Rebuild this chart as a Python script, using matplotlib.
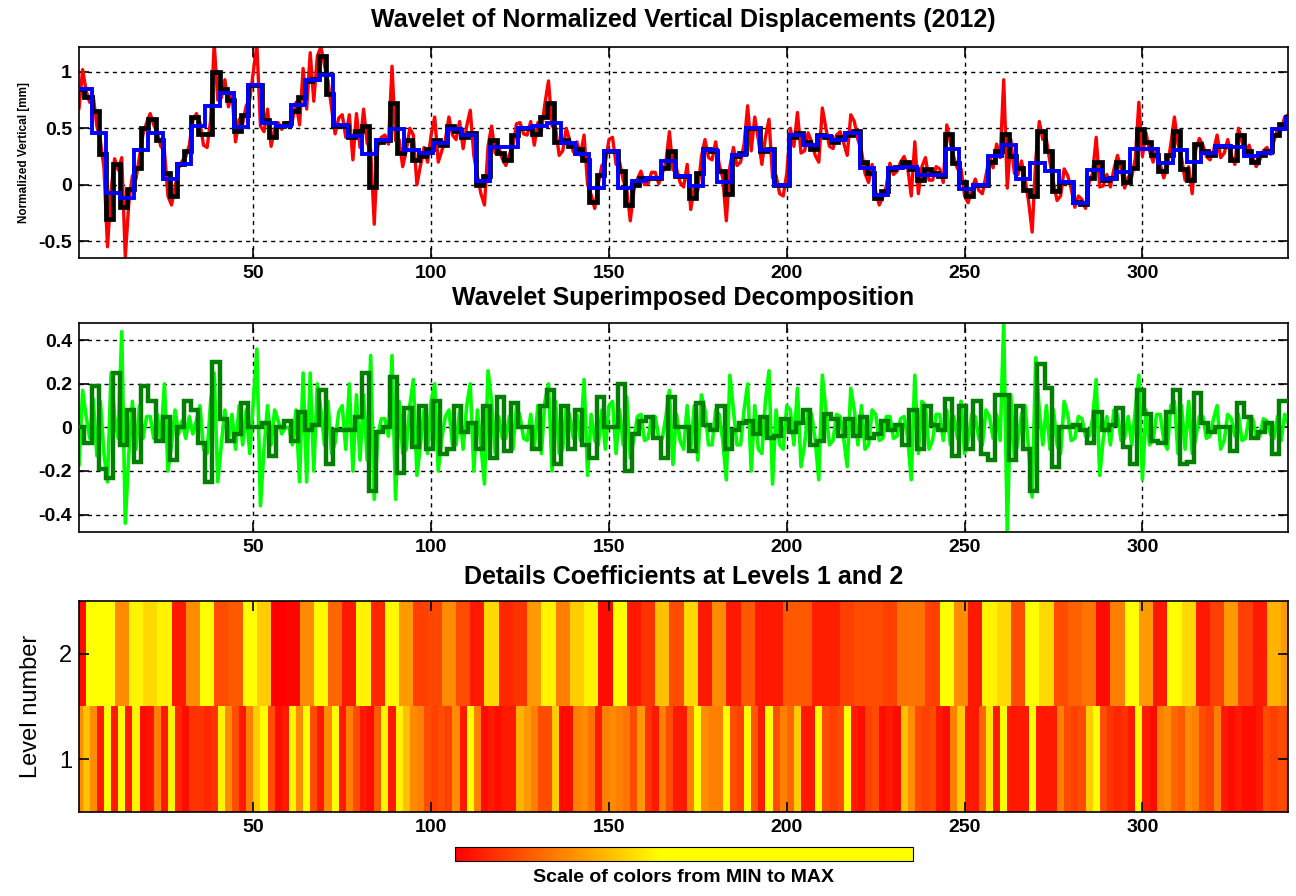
import matplotlib.pyplot as plt
import numpy as np
from matplotlib.colors import LinearSegmentedColormap
from matplotlib.colorbar import ColorbarBase

plt.rcParams['font.family'] = ['Liberation Sans', 'DejaVu Sans']

# original normalized vertical displacement (daily)
signal = [
    0.68, 1.02, 0.83, 0.73, 0.78, 0.52, 0.39, 0.15, -0.55, -0.05, 0.23, 0.13, 0.24, -0.64, -0.16, 0.08, 0.05, 0.25, 0.45, 0.55,
    0.63, 0.53, 0.46, 0.34, 0.30, -0.10, -0.18, -0.02, 0.15, 0.21, 0.25, 0.35, 0.57, 0.63, 0.55, 0.35, 0.33, 0.57, 1.25, 0.75,
    0.77, 0.93, 0.69, 0.81, 0.38, 0.58, 0.54, 0.70, 0.76, 1.00, 1.24, 0.52, 0.47, 0.67, 0.34, 0.50, 0.55, 0.49, 0.55, 0.55,
    0.57, 0.73, 0.53, 1.03, 0.67, 1.17, 0.74, 1.14, 1.22, 1.06, 0.92, 0.68, 0.45, 0.59, 0.62, 0.42, 0.62, 0.22, 0.63, 0.33,
    0.67, 0.37, 0.31, -0.35, 0.34, 0.42, 0.44, 0.36, 1.05, 0.39, 0.40, 0.16, 0.30, 0.50, 0.44, 0.00, 0.17, 0.33, 0.20, 0.44,
    0.60, 0.20, 0.30, 0.40, 0.60, 0.44, 0.40, 0.56, 0.32, 0.52, 0.66, 0.26, 0.08, -0.08, -0.18, 0.34, 0.52, 0.28, 0.33, 0.23,
    0.17, 0.27, 0.34, 0.54, 0.55, 0.45, 0.44, 0.56, 0.35, 0.55, 0.48, 0.72, 0.92, 0.52, 0.50, 0.26, 0.30, 0.50, 0.39, 0.29,
    0.38, 0.26, 0.44, 0.00, -0.09, -0.21, 0.01, 0.17, 0.20, 0.40, 0.42, 0.18, 0.20, 0.04, -0.04, -0.32, -0.05, 0.05, 0.12, 0.00,
    0.01, 0.11, 0.11, 0.01, 0.10, 0.20, 0.47, 0.13, 0.14, 0.02, -0.02, 0.18, -0.22, -0.02, -0.05, 0.25, 0.40, 0.24, 0.22, 0.38,
    0.18, 0.06, -0.32, 0.16, 0.33, 0.17, 0.20, 0.36, 0.70, 0.30, 0.60, 0.40, 0.18, 0.42, 0.58, 0.06, 0.08, -0.08, -0.10, 0.10,
    0.50, 0.34, 0.64, 0.28, 0.30, 0.46, 0.38, 0.26, 0.20, 0.68, 0.50, 0.34, 0.32, 0.44, 0.47, 0.37, 0.26, 0.62, 0.56, 0.40,
    0.30, 0.10, 0.02, 0.18, -0.06, -0.18, -0.11, -0.01, 0.19, 0.09, 0.12, 0.20, 0.25, 0.15, -0.10, 0.38, -0.08, 0.16, 0.24, 0.04,
    0.04, 0.16, 0.14, 0.02, 0.53, 0.37, 0.24, 0.14, 0.14, -0.10, -0.16, -0.04, 0.05, -0.05, -0.08, 0.08, 0.25, 0.15, 0.36, 0.24,
    0.93, -0.03, 0.40, 0.10, 0.09, 0.21, 0.05, -0.15, -0.42, 0.22, 0.56, 0.40, 0.40, 0.20, 0.02, -0.14, -0.10, 0.14, 0.08, -0.04,
    -0.20, -0.10, -0.13, -0.21, 0.02, 0.10, 0.42, -0.02, -0.01, 0.09, -0.02, 0.14, 0.26, 0.14, -0.03, 0.07, 0.07, 0.23, 0.73, 0.25,
    0.46, 0.30, 0.20, 0.32, 0.18, 0.06, 0.16, 0.36, 0.60, 0.36, 0.24, 0.04, 0.16, -0.08, 0.31, 0.41, 0.35, 0.25, 0.22, 0.30,
    0.44, 0.24, 0.28, 0.40, 0.26, 0.18, 0.50, 0.38, 0.25, 0.35, 0.24, 0.16, 0.22, 0.30, 0.33, 0.27, 0.39, 0.49, 0.48, 0.60,
    0.62,
]

# approximation at level 1 (black), one value per 2 days
approx1 = [
    0.85, 0.78, 0.65, 0.27, -0.30, 0.18, -0.20, -0.04, 0.15, 0.50,
    0.58, 0.40, 0.10, -0.10, 0.18, 0.30, 0.60, 0.45, 0.45, 1.00,
    0.85, 0.75, 0.48, 0.62, 0.88, 0.88, 0.57, 0.42, 0.52, 0.55,
    0.65, 0.78, 0.92, 0.94, 1.14, 0.80, 0.52, 0.52, 0.42, 0.48,
    0.52, -0.02, 0.38, 0.40, 0.72, 0.28, 0.40, 0.22, 0.25, 0.32,
    0.40, 0.35, 0.52, 0.48, 0.42, 0.46, 0.00, 0.08, 0.40, 0.28,
    0.22, 0.44, 0.50, 0.50, 0.45, 0.60, 0.72, 0.38, 0.40, 0.34,
    0.32, 0.22, -0.15, 0.09, 0.30, 0.30, 0.12, -0.18, 0.00, 0.06,
    0.06, 0.06, 0.15, 0.30, 0.08, 0.08, -0.12, 0.10, 0.32, 0.30,
    0.12, -0.08, 0.25, 0.28, 0.50, 0.50, 0.30, 0.32, 0.00, 0.00,
    0.42, 0.46, 0.38, 0.32, 0.44, 0.42, 0.38, 0.42, 0.44, 0.48,
    0.20, 0.10, -0.12, -0.06, 0.14, 0.16, 0.20, 0.14, 0.04, 0.14,
    0.10, 0.08, 0.45, 0.19, 0.02, -0.10, 0.00, 0.00, 0.20, 0.30,
    0.45, 0.25, 0.15, -0.05, -0.10, 0.48, 0.30, -0.06, 0.02, 0.02,
    -0.15, -0.17, 0.06, 0.20, 0.04, 0.06, 0.20, 0.02, 0.15, 0.49,
    0.38, 0.26, 0.12, 0.26, 0.48, 0.14, 0.04, 0.36, 0.30, 0.26,
    0.34, 0.34, 0.22, 0.44, 0.30, 0.20, 0.26, 0.30, 0.44, 0.54,
    0.60,
]

# approximation at level 2 (blue), one value per 4 days
approx2 = [
    0.85, 0.46, -0.07, -0.12, 0.31, 0.46, 0.05, 0.18, 0.52, 0.70,
    0.81, 0.51, 0.88, 0.55, 0.52, 0.71, 0.93, 0.97, 0.53, 0.43,
    0.27, 0.40, 0.49, 0.31, 0.28, 0.37, 0.49, 0.44, 0.03, 0.33,
    0.33, 0.50, 0.52, 0.55, 0.37, 0.27, -0.03, 0.30, -0.03, 0.03,
    0.06, 0.21, 0.08, -0.01, 0.31, 0.02, 0.26, 0.50, 0.31, 0.00,
    0.44, 0.35, 0.43, 0.40, 0.46, 0.15, -0.09, 0.15, 0.16, 0.09,
    0.09, 0.32, -0.04, 0.00, 0.25, 0.35, 0.05, 0.19, 0.12, 0.02,
    -0.16, 0.13, 0.05, 0.11, 0.32, 0.32, 0.19, 0.31, 0.20, 0.28,
    0.34, 0.33, 0.25, 0.28, 0.49, 0.59,
]

# detail at level 1 (light green), daily
detail1 = [
    -0.17, 0.17, 0.05, -0.05, 0.13, -0.13, 0.12, -0.12, -0.25, 0.25, 0.05, -0.05, 0.44, -0.44, -0.12, 0.12, -0.10, 0.10, -0.05, 0.05,
    0.05, -0.05, 0.06, -0.06, 0.20, -0.20, -0.08, 0.08, -0.03, 0.03, -0.05, 0.05, -0.03, 0.03, 0.10, -0.10, -0.12, 0.12, 0.25, -0.25,
    -0.08, 0.08, -0.06, 0.06, -0.10, 0.10, -0.08, 0.08, -0.12, 0.12, 0.36, -0.36, -0.10, 0.10, -0.08, 0.08, 0.03, -0.03, 0.00, 0.00,
    -0.08, 0.08, -0.25, 0.25, -0.25, 0.25, -0.20, 0.20, 0.08, -0.08, 0.12, -0.12, -0.07, 0.07, 0.10, -0.10, 0.20, -0.20, 0.15, -0.15,
    0.15, -0.15, 0.33, -0.33, -0.04, 0.04, 0.04, -0.04, 0.33, -0.33, 0.12, -0.12, -0.10, 0.10, 0.22, -0.22, -0.08, 0.08, -0.12, 0.12,
    0.20, -0.20, -0.05, 0.05, 0.08, -0.08, -0.08, 0.08, -0.10, 0.10, 0.20, -0.20, 0.08, -0.08, -0.26, 0.26, 0.12, -0.12, 0.05, -0.05,
    -0.05, 0.05, -0.10, 0.10, 0.05, -0.05, -0.06, 0.06, -0.10, 0.10, -0.12, 0.12, 0.20, -0.20, 0.12, -0.12, -0.10, 0.10, 0.05, -0.05,
    0.06, -0.06, 0.22, -0.22, 0.06, -0.06, -0.08, 0.08, -0.10, 0.10, 0.12, -0.12, 0.08, -0.08, 0.14, -0.14, -0.05, 0.05, 0.06, -0.06,
    -0.05, 0.05, 0.05, -0.05, -0.05, 0.05, 0.17, -0.17, 0.06, -0.06, -0.10, 0.10, -0.10, 0.10, -0.15, 0.15, 0.08, -0.08, -0.08, 0.08,
    0.06, -0.06, -0.24, 0.24, 0.08, -0.08, -0.08, 0.08, 0.20, -0.20, 0.10, -0.10, -0.12, 0.12, 0.26, -0.26, 0.08, -0.08, -0.10, 0.10,
    0.08, -0.08, 0.18, -0.18, -0.08, 0.08, 0.06, -0.06, -0.24, 0.24, 0.08, -0.08, -0.06, 0.06, 0.05, -0.05, -0.18, 0.18, 0.08, -0.08,
    0.10, -0.10, -0.08, 0.08, 0.06, -0.06, -0.05, 0.05, 0.05, -0.05, -0.04, 0.04, 0.05, -0.05, -0.24, 0.24, -0.12, 0.12, 0.10, -0.10,
    -0.06, 0.06, 0.06, -0.06, 0.08, -0.08, 0.05, -0.05, 0.12, -0.12, -0.06, 0.06, 0.05, -0.05, -0.08, 0.08, 0.05, -0.05, 0.06, -0.06,
    0.48, -0.48, 0.15, -0.15, -0.06, 0.06, 0.10, -0.10, -0.32, 0.32, 0.08, -0.08, 0.10, -0.10, 0.08, -0.08, -0.12, 0.12, 0.06, -0.06,
    -0.05, 0.05, 0.04, -0.04, -0.04, 0.04, 0.22, -0.22, -0.05, 0.05, -0.08, 0.08, 0.06, -0.06, -0.05, 0.05, -0.08, 0.08, 0.24, -0.24,
    0.08, -0.08, -0.06, 0.06, 0.06, -0.06, -0.10, 0.10, 0.12, -0.12, 0.10, -0.10, 0.12, -0.12, -0.05, 0.05, 0.05, -0.05, -0.04, 0.04,
    0.10, -0.10, -0.06, 0.06, 0.04, -0.04, 0.06, -0.06, -0.05, 0.05, 0.04, -0.04, -0.04, 0.04, 0.03, -0.03, -0.05, 0.05, -0.06, 0.06,
    0.02,
]

# detail at level 2 (dark green), one value per 2 days
detail2 = [
    0.00, -0.07, 0.19, -0.19, -0.23, 0.25, -0.08, 0.08, -0.16, 0.19,
    0.12, -0.06, 0.05, -0.15, 0.00, 0.12, 0.08, -0.07, -0.25, 0.30,
    0.04, -0.06, -0.03, 0.11, 0.00, 0.00, 0.02, -0.13, 0.00, 0.03,
    -0.06, 0.07, -0.01, 0.01, 0.17, -0.17, -0.01, -0.01, -0.01, 0.05,
    0.25, -0.29, -0.02, 0.00, 0.23, -0.21, 0.09, -0.09, 0.10, -0.10,
    0.12, -0.12, -0.10, 0.10, -0.02, 0.02, -0.10, 0.10, -0.14, 0.14,
    -0.11, 0.11, 0.00, 0.00, -0.10, 0.10, 0.17, -0.17, 0.10, -0.10,
    0.08, -0.08, -0.14, 0.14, 0.00, 0.00, 0.20, -0.20, -0.03, 0.03,
    0.05, -0.05, -0.14, 0.14, 0.00, 0.00, -0.11, 0.11, 0.01, -0.01,
    0.10, -0.10, -0.01, 0.02, 0.03, -0.03, 0.05, -0.05, -0.04, 0.04,
    -0.02, 0.02, 0.08, -0.08, -0.06, 0.06, 0.04, -0.04, 0.04, -0.04,
    0.05, -0.05, -0.03, 0.03, -0.01, 0.01, -0.08, 0.08, -0.10, 0.10,
    0.01, -0.01, 0.13, -0.13, 0.10, -0.10, 0.12, -0.12, -0.15, 0.15,
    0.15, -0.15, 0.10, -0.10, -0.29, 0.29, 0.18, -0.18, 0.00, 0.00,
    0.01, -0.01, -0.07, 0.07, -0.01, 0.01, 0.09, -0.09, -0.17, 0.17,
    0.06, -0.06, -0.07, 0.07, 0.17, -0.17, -0.16, 0.16, 0.02, -0.02,
    0.00, 0.00, -0.11, 0.11, 0.05, -0.05, -0.02, 0.02, -0.12, 0.12,
    0.12,
]

# coefficient magnitude shown as colour (0 = MIN, 1 = MAX)
coef_lev1 = [
    0.55, 0.75, 0.55, 0.10, 1.00, 0.10, 1.00, 0.10, 0.95, 0.05,
    0.08, 0.50, 0.10, 0.95, 0.15, 0.05, 0.20, 0.20, 0.15, 0.20,
    0.95, 0.55, 0.30, 0.10, 0.50, 0.80, 1.00, 0.30, 0.05, 0.10,
    0.95, 0.55, 1.00, 0.30, 0.10, 0.55, 1.00, 0.10, 0.50, 0.30,
    0.10, 0.05, 0.35, 0.95, 0.10, 0.95, 0.75, 0.55, 0.50, 0.30,
    0.25, 0.30, 0.25, 0.55, 0.10, 1.00, 0.50, 0.05, 0.10, 0.05,
    0.10, 0.10, 0.70, 0.60, 0.50, 0.30, 0.30, 0.80, 0.05, 0.05,
    0.50, 0.55, 0.45, 0.10, 0.50, 0.55, 0.50, 0.45, 0.30, 0.60,
    0.20, 0.10, 0.50, 0.30, 0.10, 0.10, 0.50, 1.00, 0.55, 0.50,
    0.50, 1.00, 0.30, 0.25, 1.00, 0.35, 0.10, 1.00, 0.30, 0.50,
    0.40, 0.80, 0.10, 0.10, 1.00, 0.30, 0.25, 0.30, 1.00, 0.10,
    0.05, 0.25, 0.30, 0.05, 0.10, 0.05, 0.75, 0.55, 0.30, 0.25,
    0.30, 0.10, 0.05, 0.50, 0.80, 0.10, 0.10, 0.40, 0.90, 0.10,
    1.00, 0.10, 0.10, 0.10, 1.00, 0.10, 0.10, 0.10, 0.50, 0.30,
    0.25, 0.30, 0.80, 1.00, 0.30, 0.20, 0.15, 0.20, 0.10, 1.00,
    0.10, 0.05, 0.50, 0.55, 0.40, 0.35, 0.55, 0.50, 0.30, 0.25,
    0.50, 0.10, 0.05, 0.10, 0.05, 0.05, 0.10, 0.30, 0.25, 0.30,
    0.25,
]
coef_lev2 = [
    0.05, 1.00, 1.00, 0.55, 0.95, 0.85, 0.95, 0.10, 0.55, 1.00,
    0.30, 0.35, 1.00, 0.80, 0.00, 0.02, 0.55, 0.98, 0.40, 0.10,
    0.95, 0.15, 0.98, 0.60, 0.25, 0.28, 0.55, 0.30, 0.10, 0.85,
    0.15, 0.20, 0.60, 0.95, 0.50, 0.80, 0.95, 0.05, 1.00, 0.10,
    0.20, 0.75, 0.30, 0.85, 0.10, 0.55, 0.10, 0.35, 0.10, 0.10,
    0.35, 0.35, 0.12, 0.12, 0.25, 0.30, 0.30, 0.25, 0.45, 0.45,
    0.25, 1.00, 0.55, 0.10, 0.95, 0.85, 0.30, 1.00, 0.85, 0.30,
    0.38, 0.45, 0.05, 0.50, 1.00, 0.60, 0.10, 1.00, 0.85, 0.10,
    0.25, 0.60, 0.25, 0.10, 0.70, 0.60,
]

xticks = [50, 100, 150, 200, 250, 300]
top_yticks = [-0.5, 0, 0.5, 1]
mid_yticks = [-0.4, -0.2, 0, 0.2, 0.4]

n = len(signal)
days = np.arange(1, n + 1)
edges_a1 = np.arange(0.5, 2 * len(approx1) + 1, 2)
edges_a2 = np.arange(0.5, 4 * len(approx2) + 1, 4)
edges_c1 = np.arange(0, 2 * len(coef_lev1) + 1, 2)
edges_c2 = np.arange(-1, 4 * len(coef_lev2) + 1, 4)


def matlab_axes(ax):
    ax.set_xlim(1, n)
    ax.set_xticks(xticks)
    ax.tick_params(direction='in', top=True, right=True, length=7, width=1.2,
                   labelsize=14, pad=5)
    for lab in ax.get_xticklabels() + ax.get_yticklabels():
        lab.set_fontweight('bold')
    for sp in ax.spines.values():
        sp.set_linewidth(1.2)


fig = plt.figure(figsize=(12.96, 8.96), dpi=100)

# top panel: signal with both approximations
ax1 = fig.add_axes([0.061, 0.712, 0.933, 0.2355])
ax1.plot(days, signal, color='red', lw=2.4, zorder=2)
ax1.stairs(approx1, edges_a1, baseline=None, color='black', lw=3.4, zorder=3)
ax1.stairs(approx2, edges_a2, baseline=None, color='blue', lw=2.8, zorder=4)
ax1.set_ylim(-0.65, 1.22)
ax1.set_yticks(top_yticks)
ax1.set_yticklabels(['-0.5', '0', '0.5', '1'])
ax1.grid(True, color='black', linestyle=(0, (3, 3)), linewidth=1.0)
ax1.set_axisbelow(True)
ax1.set_ylabel('Normalized Vertical [mm]', fontsize=8.5, fontweight='bold', labelpad=6)
matlab_axes(ax1)

# middle panel: superimposed details
ax2 = fig.add_axes([0.061, 0.4063, 0.933, 0.2333])
ax2.plot(days, detail1, color='#00ff00', lw=2.6, zorder=2)
ax2.stairs(detail2, edges_a1, baseline=None, color='#007f00', lw=3.2, zorder=3)
ax2.set_ylim(-0.48, 0.48)
ax2.set_yticks(mid_yticks)
ax2.set_yticklabels(['-0.4', '-0.2', '0', '0.2', '0.4'])
ax2.grid(True, color='black', linestyle=(0, (3, 3)), linewidth=1.0)
ax2.set_axisbelow(True)
matlab_axes(ax2)

# bottom panel: coefficients as colours
ax3 = fig.add_axes([0.061, 0.0938, 0.933, 0.2355])
ax3.pcolormesh(edges_c1, [0.5, 1.5], [coef_lev1], cmap='autumn', vmin=0, vmax=1)
ax3.pcolormesh(edges_c2, [1.5, 2.5], [coef_lev2], cmap='autumn', vmin=0, vmax=1)
ax3.set_ylim(0.5, 2.5)
ax3.set_yticks([1, 2])
ax3.set_ylabel('Level number', fontsize=17, labelpad=12)
matlab_axes(ax3)
ax3.tick_params(axis='y', labelsize=17)
for lab in ax3.get_yticklabels():
    lab.set_fontweight('normal')

fig.text(0.5274, 0.9777, 'Wavelet of Normalized Vertical Displacements (2012)',
         ha='center', va='center', fontsize=18, fontweight='bold')
fig.text(0.5274, 0.6674, 'Wavelet Superimposed Decomposition',
         ha='center', va='center', fontsize=18, fontweight='bold')
fig.text(0.5274, 0.356, 'Details Coefficients at Levels 1 and 2',
         ha='center', va='center', fontsize=18, fontweight='bold')

# colour scale bar
bar_cmap = LinearSegmentedColormap.from_list(
    'scale', [(0.0, '#ff0000'), (0.25, '#ff8c00'), (0.45, '#ffff00'), (1.0, '#ffff00')])
cax = fig.add_axes([0.351, 0.039, 0.3534, 0.0156])
ColorbarBase(cax, cmap=bar_cmap, orientation='horizontal', ticks=[])
cax.set_xlabel('Scale of colors from MIN to MAX', fontsize=14, fontweight='bold', labelpad=6)

fig.savefig('out.png', dpi=100)
